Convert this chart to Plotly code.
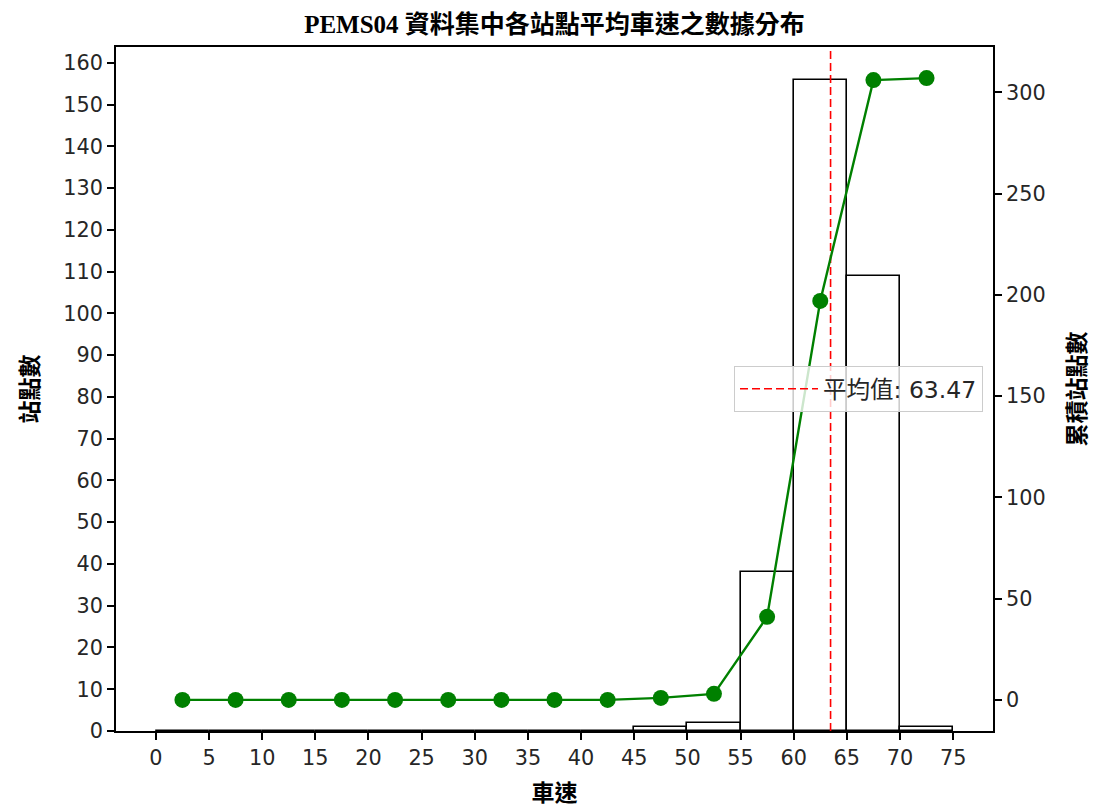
import plotly.graph_objects as go

# ---- data ----
bin_edges = [0, 5, 10, 15, 20, 25, 30, 35, 40, 45, 50, 55, 60, 65, 70, 75]
station_counts = [0, 0, 0, 0, 0, 0, 0, 0, 0, 1, 2, 38, 156, 109, 1]
cumulative_counts = [0, 0, 0, 0, 0, 0, 0, 0, 0, 1, 3, 41, 197, 306, 307]
mean_speed = 63.47

x_ticks = list(range(0, 80, 5))
y_left_ticks = list(range(0, 170, 10))
y_right_ticks = list(range(0, 350, 50))

title_text = "PEMS04 資料集中各站點平均車速之數據分布"
x_title = "車速"
y_left_title = "站點數"
y_right_title = "累積站點數"
legend_label = f"平均值: {mean_speed:.2f}"

bin_centers = [(a + b) / 2 for a, b in zip(bin_edges[:-1], bin_edges[1:])]
bin_widths = [b - a for a, b in zip(bin_edges[:-1], bin_edges[1:])]

# matplotlib-like auto ranges (5% margins)
xmin, xmax = bin_edges[0], bin_edges[-1]
xpad = (xmax - xmin) * 0.05
y1max = max(station_counts) * 1.05
c_lo, c_hi = min(cumulative_counts), max(cumulative_counts)
cpad = (c_hi - c_lo) * 0.05

SERIF = "Liberation Serif, Noto Sans CJK TC, serif"
SANS = "DejaVu Sans, Noto Sans CJK TC, sans-serif"

fig = go.Figure()

fig.add_trace(go.Bar(
    x=bin_centers, y=station_counts, width=bin_widths,
    marker=dict(color="rgba(255,255,255,0)", line=dict(color="black", width=1.6)),
    showlegend=False, yaxis="y",
))

fig.add_trace(go.Scatter(
    x=[mean_speed, mean_speed], y=[0, y1max],
    mode="lines", line=dict(color="red", width=1.6, dash="8px,4px"),
    name=legend_label, showlegend=True, yaxis="y",
))

fig.add_trace(go.Scatter(
    x=bin_centers, y=cumulative_counts,
    mode="lines+markers",
    line=dict(color="green", width=2.4),
    marker=dict(color="green", size=16),
    showlegend=False, yaxis="y2",
))

axis_common = dict(
    showgrid=False, zeroline=False, showline=True, linecolor="black", linewidth=1.6,
    ticks="outside", ticklen=7, tickwidth=1.6, tickcolor="black", automargin=False,
    tickfont=dict(family=SANS, size=20.8, color="#262626"),
)

fig.update_layout(
    width=1097, height=809,
    margin=dict(l=116, r=104, t=47, b=78, autoexpand=False),
    paper_bgcolor="white", plot_bgcolor="white",
    title=dict(text=title_text, x=0.5055, xanchor="center", y=1 - 24 / 809, yanchor="middle",
               font=dict(family=SERIF, size=25, color="black", weight="bold")),
    xaxis=dict(**axis_common, range=[xmin - xpad, xmax + xpad], tickvals=x_ticks,
               mirror=True,
               title=dict(text=x_title, font=dict(family=SERIF, size=23, color="black", weight="bold"),
                          standoff=16)),
    yaxis=dict(**axis_common, range=[0, y1max], tickvals=y_left_ticks,
               title=dict(text=y_left_title, font=dict(family=SERIF, size=23, color="black", weight="bold"),
                          standoff=18)),
    yaxis2=dict(**axis_common, range=[c_lo - cpad, c_hi + cpad], tickvals=y_right_ticks,
                overlaying="y", side="right",
                title=dict(text=y_right_title, font=dict(family=SERIF, size=23, color="black", weight="bold"),
                           standoff=24)),
    legend=dict(x=(983 - 116) / 877, xanchor="right", y=0.5, yanchor="middle",
                itemwidth=78,
                bgcolor="rgba(255,255,255,0.8)", bordercolor="#cccccc", borderwidth=1,
                font=dict(family=SANS, size=23.5, color="#262626")),
    bargap=0,
)

fig.write_html("out.html", config={"displayModeBar": False},
               post_script="document.body.style.margin='0';document.body.style.overflow='hidden';")
